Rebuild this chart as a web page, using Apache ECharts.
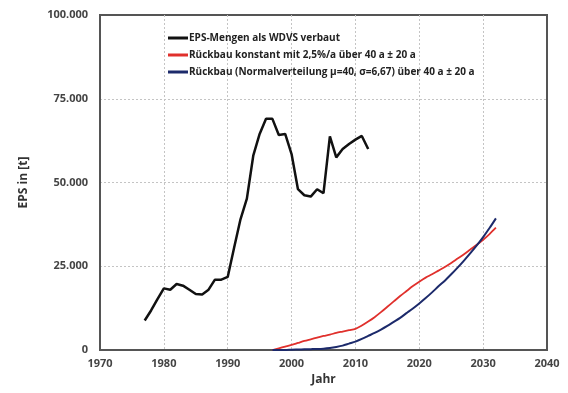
<!DOCTYPE html>
<html>
<head>
<meta charset="utf-8">
<script src="https://cdn.jsdelivr.net/npm/echarts@6/dist/echarts.min.js"></script>
<style>
  html, body { margin: 0; padding: 0; background: #fff; }
  #chart { width: 568px; height: 393px; }
</style>
</head>
<body>
<div id="chart"></div>
<script>
// Installed EPS quantities in ETICS (WDVS), tonnes per year
const epsYears = [1977, 1978, 1979, 1980, 1981, 1982, 1983, 1984, 1985, 1986, 1987, 1988, 1989, 1990,
  1991, 1992, 1993, 1994, 1995, 1996, 1997, 1998, 1999, 2000, 2001, 2002, 2003, 2004, 2005, 2006,
  2007, 2008, 2009, 2010, 2011, 2012];
const epsInstalled = [8800, 11800, 15200, 18400, 18000, 19700, 19200, 18000, 16700, 16600, 18000, 21000, 21000, 21800,
  30500, 39000, 45200, 58000, 64500, 69000, 69000, 64200, 64500, 58500, 48000, 46200, 45800, 48000, 46800, 63800,
  57500, 60000, 61500, 62800, 63900, 60000];

// Demolition scenarios
const demoYears = [1997, 1998, 1999, 2000, 2001, 2002, 2003, 2004, 2005, 2006, 2007, 2008, 2009, 2010,
  2011, 2012, 2013, 2014, 2015, 2016, 2017, 2018, 2019, 2020, 2021, 2022, 2023, 2024, 2025, 2026,
  2027, 2028, 2029, 2030, 2031, 2032];
const demoConstant = [0, 500, 1000, 1500, 2100, 2700, 3200, 3700, 4200, 4600, 5100, 5500, 5900, 6300,
  7300, 8500, 9800, 11300, 12900, 14500, 16100, 17600, 19100, 20400, 21600, 22600, 23700, 24800, 26000, 27300,
  28600, 30000, 31400, 32900, 34600, 36500];
const demoNormal = [0, 0, 0, 100, 150, 200, 250, 300, 400, 600, 900, 1300, 1900, 2500,
  3300, 4200, 5100, 6100, 7200, 8400, 9600, 11000, 12400, 13900, 15500, 17200, 19000, 20700, 22600, 24600,
  26700, 28900, 31200, 33700, 36400, 39300];

const seriesNames = [
  'EPS-Mengen als WDVS verbaut',
  'Rückbau konstant mit 2,5%/a über 40 a ± 20 a',
  'Rückbau (Normalverteilung μ=40, σ=6,67) über 40 a ± 20 a'
];

const xTicks = { min: 1970, max: 2040, step: 10 };
const yTicks = { min: 0, max: 100000, step: 25000 };

const pairs = (xs, ys) => xs.map((x, i) => [x, ys[i]]);
const thousands = v => String(v).replace(/\B(?=(\d{3})+(?!\d))/g, '.');

const font = '"Open Sans", "Noto Sans", sans-serif';
const gridLine = { show: true, showMinLine: false, showMaxLine: false, lineStyle: { color: '#c4c4c4', type: [2, 2], width: 1 } };

const chart = echarts.init(document.getElementById('chart'), null, { renderer: 'canvas' });
chart.setOption({
  animation: false,
  backgroundColor: '#fff',
  grid: { left: 100, right: 21, top: 15, bottom: 43, show: true, borderColor: '#555', borderWidth: 2, backgroundColor: 'transparent' },
  legend: {
    orient: 'vertical', left: 163, top: 28, itemWidth: 20, itemHeight: 3, itemGap: 7,
    icon: 'rect',
    textStyle: { fontFamily: font, fontSize: 10, fontWeight: 'bold', color: '#222', padding: [0, 0, 0, -4] },
    data: seriesNames
  },
  xAxis: {
    type: 'value', min: xTicks.min, max: xTicks.max, interval: xTicks.step,
    name: 'Jahr', nameLocation: 'middle', nameGap: 24,
    nameTextStyle: { fontFamily: font, fontSize: 12, fontWeight: 'bold', color: '#333' },
    axisLine: { show: true, lineStyle: { color: '#555', width: 2 } },
    axisTick: { show: false },
    axisLabel: { formatter: v => String(v), fontFamily: font, fontSize: 11, fontWeight: 'bold', color: '#444', margin: 8 },
    splitLine: gridLine
  },
  yAxis: {
    type: 'value', min: yTicks.min, max: yTicks.max, interval: yTicks.step,
    name: 'EPS in [t]', nameLocation: 'middle', nameGap: 70, nameRotate: 90,
    nameTextStyle: { fontFamily: font, fontSize: 12, fontWeight: 'bold', color: '#333' },
    axisLine: { show: true, lineStyle: { color: '#555', width: 2 } },
    axisTick: { show: false },
    axisLabel: { formatter: v => thousands(v), fontFamily: font, fontSize: 11, fontWeight: 'bold', color: '#444', margin: 12 },
    splitLine: gridLine
  },
  series: [
    { name: seriesNames[0], type: 'line', data: pairs(epsYears, epsInstalled), showSymbol: false,
      lineStyle: { color: '#111', width: 2.5 }, itemStyle: { color: '#111' } },
    { name: seriesNames[1], type: 'line', data: pairs(demoYears, demoConstant), showSymbol: false, smooth: 0.3,
      lineStyle: { color: '#e0302c', width: 1.8 }, itemStyle: { color: '#e0302c' } },
    { name: seriesNames[2], type: 'line', data: pairs(demoYears, demoNormal), showSymbol: false, smooth: 0.3,
      lineStyle: { color: '#1c2a6b', width: 2 }, itemStyle: { color: '#1c2a6b' } }
  ]
});
</script>
</body>
</html>
